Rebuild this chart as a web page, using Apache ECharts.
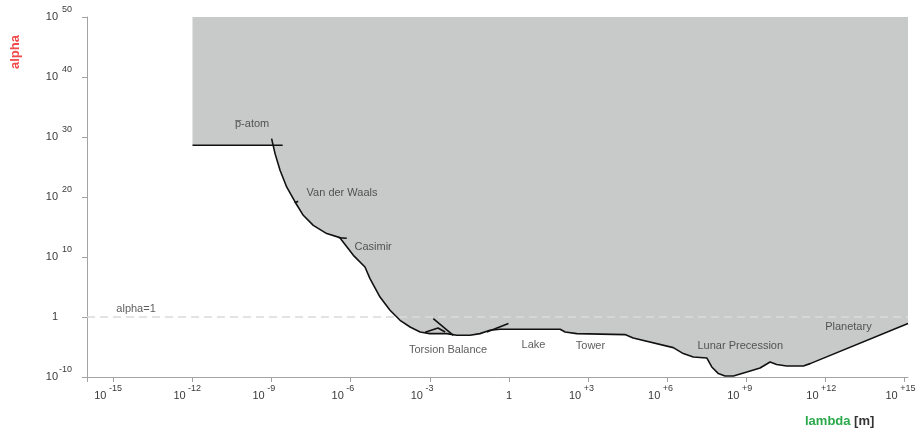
<!DOCTYPE html>
<html>
<head>
<meta charset="utf-8">
<script src="https://cdn.jsdelivr.net/npm/echarts@6/dist/echarts.min.js"></script>
<style>html,body{margin:0;padding:0;background:#fff}#c{width:921px;height:431px}</style>
</head>
<body>
<div id="c"></div>
<script>
// log10(lambda [m]) tick exponents and log10(alpha) ticks
const xTickExps = [-15, -12, -9, -6, -3, 0, 3, 6, 9, 12, 15];
const yTickExps = [-10, 0, 10, 20, 30, 40, 50];

// p-atom limit (horizontal line) : [log10 lambda, log10 alpha]
const patomLine = [[-12, 28.62], [-8.58, 28.62]];
// excluded-region left edge start along p-atom line until it meets the curve
const patomFillEdge = [[-12, 28.62], [-8.94, 28.62]];

// main exclusion boundary curve: [log10 lambda, log10 alpha]
const boundary = [
  [-9.0, 29.73], [-8.87, 27.23], [-8.68, 24.45], [-8.43, 21.67], [-8.11, 19.17],
  [-7.80, 16.95], [-7.42, 15.28], [-6.91, 13.9], [-6.41, 13.23], [-6.34, 12.78],
  [-5.90, 10.28], [-5.46, 8.33], [-5.27, 6.4], [-4.89, 3.33], [-4.51, 1.12],
  [-4.13, -0.55], [-3.75, -1.67], [-3.37, -2.5], [-3.0, -2.77], [-2.36, -2.77],
  [-1.98, -3.05], [-1.48, -3.05], [-1.10, -2.77], [-0.72, -2.22], [-0.34, -2.05],
  [0.42, -2.05], [1.94, -2.05], [2.13, -2.5], [2.57, -2.77], [4.40, -2.93],
  [4.71, -3.5], [6.23, -5.1], [6.61, -6.1], [6.99, -6.67], [7.50, -6.83],
  [7.69, -8.33], [7.94, -9.43], [8.19, -9.83], [8.51, -9.83], [9.02, -9.17],
  [9.52, -8.5], [9.90, -7.5], [10.15, -7.93], [10.53, -8.17], [11.16, -8.17],
  [11.42, -7.77], [15.13, -1.1]
];

// secondary experiment fragments
const torsionCross = [[-2.87, -0.27], [-2.11, -3.05]];
const torsionBump = [[-3.18, -2.55], [-2.69, -1.83], [-2.42, -2.5]];
const torsionRight = [[-0.84, -2.5], [-0.02, -1.1]];
const vdwStub = [[-8.13, 19.1], [-7.99, 19.27]];
const casimirStub = [[-6.45, 13.22], [-6.15, 13.12]];

// alpha = 1 reference line
const alphaOne = [[-16, 0], [15.13, 0]];

// annotation texts and their anchor points
const annoText = ['p\u0305-atom', 'Van der Waals', 'Casimir', 'Torsion Balance', 'Lake', 'Tower', 'Lunar Precession', 'Planetary', 'alpha=1'];
const annoPos = [[-9.74, 32.1], [-6.33, 20.67], [-5.15, 11.67], [-2.31, -5.55], [0.93, -4.72], [3.09, -4.88], [8.77, -4.78], [12.87, -1.67], [-14.14, 1.28]];

const FONT = '"Liberation Sans", Arial, Helvetica, sans-serif';
const LBL = '#3a3a3a';
const AX = '#a3a3a3';

const fillData = patomFillEdge.concat(boundary.slice(1));

function blackLine(data) {
  return {
    type: 'line', data: data, showSymbol: false, symbol: 'none', silent: true,
    lineStyle: { color: '#111', width: 1.6 }, z: 5, animation: false
  };
}

const chart = echarts.init(document.getElementById('c'), null, { renderer: 'canvas' });
chart.setOption({
  animation: false,
  backgroundColor: '#fff',
  grid: { left: 87, right: 13, top: 17, bottom: 54, containLabel: false, outerBoundsMode: 'none' },
  xAxis: {
    type: 'value', min: -16, max: 15.13,
    axisLine: { show: true, onZero: false, lineStyle: { color: AX, width: 1 } },
    axisTick: { show: true, length: 5, lineStyle: { color: AX }, customValues: [-16].concat(xTickExps) },
    splitLine: { show: false },
    axisLabel: {
      customValues: xTickExps,
      margin: 7,
      hideOverlap: false,
      fontFamily: FONT,
      color: LBL,
      formatter: function (v) {
        if (v === 0) return '{one|1}';
        return '{b|10}{s| ' + (v > 0 ? '+' : '') + v + '}';
      },
      rich: {
        one: { fontSize: 11, lineHeight: 24, fontFamily: FONT, color: LBL },
        b: { fontSize: 11, lineHeight: 24, align: 'left', fontFamily: FONT, color: LBL },
        s: { fontSize: 9, lineHeight: 10, verticalAlign: 'top', width: 26, align: 'left', fontFamily: FONT, color: LBL }
      }
    }
  },
  yAxis: {
    type: 'value', min: -10, max: 50, interval: 10,
    axisLine: { show: true, onZero: false, lineStyle: { color: AX, width: 1 } },
    axisTick: { show: true, length: 5, lineStyle: { color: AX } },
    splitLine: { show: false },
    axisLabel: {
      margin: 15,
      fontFamily: FONT,
      color: LBL,
      formatter: function (v) {
        if (v === 0) return '{b|1}{s| }';
        return '{b|10}{s|' + (v === -10 ? '' : ' ') + v + '}';
      },
      rich: {
        b: { fontSize: 11, lineHeight: 24, fontFamily: FONT, color: LBL },
        s: { fontSize: 9, lineHeight: 10, verticalAlign: 'top', width: 14, fontFamily: FONT, color: LBL }
      }
    }
  },
  graphic: [
    {
      type: 'text', x: 15, y: 52, rotation: Math.PI / 2,
      style: { text: 'alpha', fill: '#f04a4a', font: 'bold 13px ' + FONT, textAlign: 'center', textVerticalAlign: 'middle' }
    },
    {
      type: 'text', x: 805, y: 421,
      style: {
        text: '{g|lambda}{k| [m]}', textAlign: 'left', textVerticalAlign: 'middle',
        rich: {
          g: { fill: '#2aa84a', fontWeight: 'bold', fontSize: 13, fontFamily: FONT },
          k: { fill: '#333', fontWeight: 'bold', fontSize: 13, fontFamily: FONT }
        }
      }
    }
  ],
  series: [
    {
      type: 'line', data: fillData, showSymbol: false, symbol: 'none', silent: true,
      lineStyle: { width: 0, opacity: 0 },
      areaStyle: { origin: 'end', color: '#c8c9c9', opacity: 1 },
      z: 1
    },
    {
      type: 'line', data: alphaOne, showSymbol: false, symbol: 'none', silent: true,
      lineStyle: { color: '#dadada', width: 1.5, type: [8, 5] }, z: 3
    },
    blackLine(patomLine),
    blackLine(boundary),
    blackLine(torsionCross),
    blackLine(torsionBump),
    blackLine(torsionRight),
    blackLine(vdwStub),
    blackLine(casimirStub),
    {
      type: 'scatter', symbolSize: 0, silent: true, z: 6,
      data: annoText.map(function (t, i) { return { name: t, value: annoPos[i] }; }),
      label: {
        show: true, position: 'inside', formatter: '{b}',
        fontSize: 11, fontFamily: FONT, color: '#333'
      }
    }
  ]
});
</script>
</body>
</html>
